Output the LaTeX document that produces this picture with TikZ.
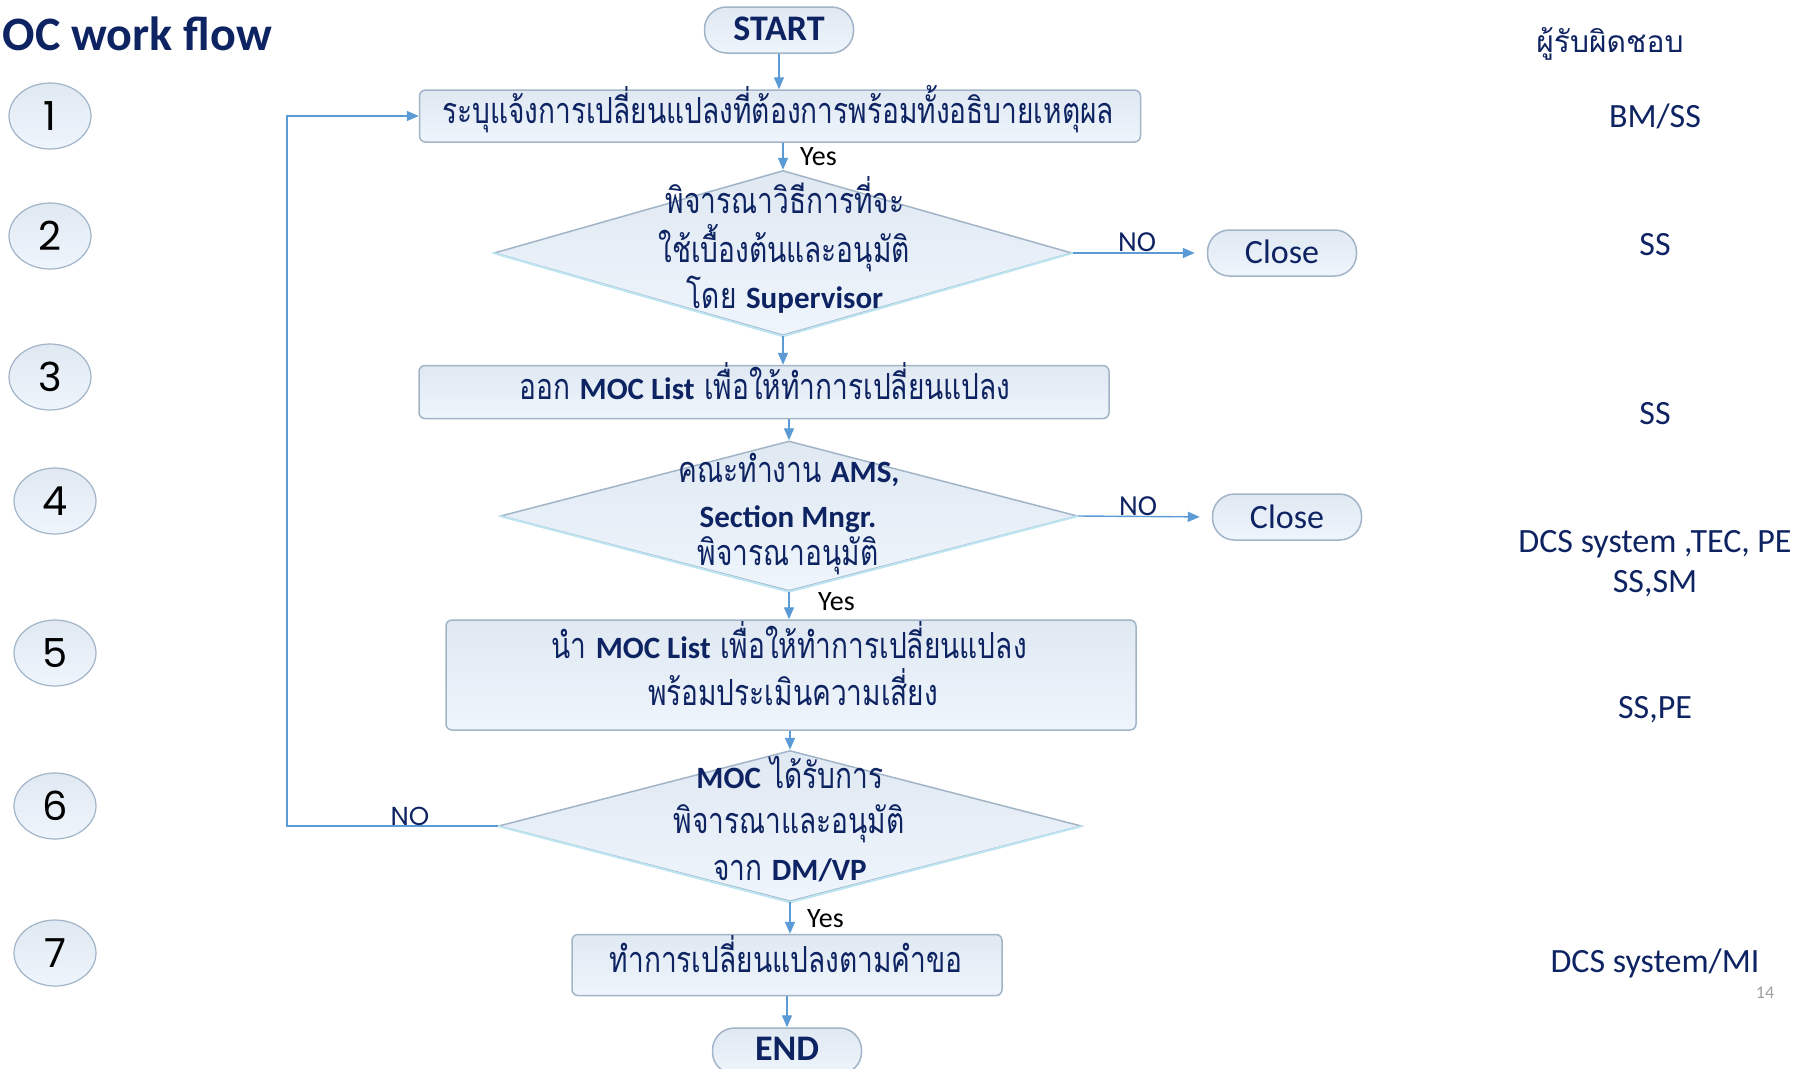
\documentclass[tikz,border=0pt]{standalone}
\usepackage{fontspec}
\setmainfont{Carlito}
\newfontfamily\thaif[Script=Thai,FakeStretch=0.78]{Loma}
\newfontfamily\thaih[Script=Thai]{Loma}
\newfontfamily\numf{Poppins}
\usetikzlibrary{shapes.geometric,arrows.meta,calc}
\definecolor{navy}{HTML}{0E2362}
\definecolor{conncol}{HTML}{5B9BD5}
\definecolor{filltop}{HTML}{E0E8F2}
\definecolor{fillbot}{HTML}{EEF5FC}
\definecolor{edgecol}{HTML}{A2B4C7}
\definecolor{lowcol}{HTML}{BDE4F1}
\definecolor{pagegray}{HTML}{A0A0A0}
\newcommand{\thaitext}{\thaif\fontsize{36}{40}\selectfont}
\newcommand{\latb}{\rmfamily\bfseries\fontsize{31}{36}\selectfont}
\tikzset{
  x=1pt, y=-1pt,
  txt/.style={text=navy, inner sep=0pt, anchor=base},
  shapebase/.style={draw=edgecol, line width=1.5pt, top color=filltop, bottom color=fillbot, inner sep=0pt},
  boxshape/.style={shapebase, rectangle, rounded corners=6pt},
  pillshape/.style={shapebase, rectangle, rounded corners=22pt, minimum width=149pt, minimum height=46pt},
  diashape/.style={shapebase, diamond, aspect=3.5},
  numball/.style={draw=edgecol, line width=1.2pt, top color=filltop, bottom color=fillbot, ellipse, minimum width=82pt, minimum height=66pt, inner sep=0pt, text=black, font=\numf\fontsize{40}{44}\selectfont},
  lowedge/.style={draw=lowcol, line width=2pt},
  conn/.style={draw=conncol, line width=1.4pt, -{Triangle[length=12pt,width=10pt]}},
  yeslbl/.style={inner sep=0pt, anchor=base west, text=black, font=\rmfamily\fontsize{28}{32}\selectfont},
  nolbl/.style={inner sep=0pt, anchor=base, text=navy, font=\rmfamily\fontsize{29}{32}\selectfont},
  rightlbl/.style={inner sep=0pt, anchor=base, text=navy, font=\rmfamily\fontsize{34}{38}\selectfont},
}
\begin{document}
\begin{tikzpicture}
\useasboundingbox (0,0) rectangle (1817,1068);
\fill[white] (0,0) rectangle (1817,1068);

% title
\node[txt, anchor=base east, font=\rmfamily\bfseries\fontsize{48}{52}\selectfont] (title) at (272,50) {MOC work flow};

% numbered balls
\node[numball] (n1) at (50,116) {1};
\node[numball] (n2) at (50,236) {2};
\node[numball] (n3) at (50,377) {3};
\node[numball] (n4) at (55,501) {4};
\node[numball] (n5) at (55,653) {5};
\node[numball] (n6) at (55,806) {6};
\node[numball] (n7) at (55,953) {7};

% shapes
\node[pillshape] (start) at (779,30) {};
\node[txt, font=\rmfamily\bfseries\fontsize{36}{40}\selectfont] (starttxt) at (779,40) {START};

\node[boxshape, minimum width=721pt, minimum height=52pt] (b1) at (780,116) {};
\node[txt] (b1t) at (778,123) {\thaitext ระบุแจ้งการเปลี่ยนแปลงที่ต้องการพร้อมทั้งอธิบายเหตุผล};

\node[diashape, minimum width=578pt, minimum height=165pt] (d2) at (783,253) {};
\draw[lowedge] (d2.west) -- (d2.south) -- (d2.east);
\node[txt] (d2a) at (785,213) {\thaitext พิจารณาวิธีการที่จะ};
\node[txt] (d2b) at (784,262) {\thaitext ใช้เบื้องต้นและอนุมัติ};
\node[txt] (d2c) at (785,308) {\thaitext โดย {\latb Supervisor}};

\node[pillshape] (close1) at (1282,253) {};
\node[txt, font=\rmfamily\fontsize{34}{38}\selectfont] (close1t) at (1282,263) {Close};

\node[boxshape, minimum width=690pt, minimum height=53pt] (b3) at (764,392) {};
\node[txt] (b3t) at (765,399) {\thaitext ออก {\latb MOC List} เพื่อให้ทำการเปลี่ยนแปลง};

\node[diashape, minimum width=577pt, minimum height=150pt] (d4) at (789,516) {};
\draw[lowedge] (d4.west) -- (d4.south) -- (d4.east);
\node[txt] (d4a) at (789,482) {\thaitext คณะทำงาน {\latb AMS,}};
\node[txt] (d4b) at (788,527) {\latb Section Mngr.};
\node[txt] (d4c) at (788,565) {\thaitext พิจารณาอนุมัติ};

\node[pillshape] (close2) at (1287,517) {};
\node[txt, font=\rmfamily\fontsize{34}{38}\selectfont] (close2t) at (1287,528) {Close};

\node[boxshape, minimum width=690pt, minimum height=110pt] (b5) at (791,675) {};
\node[txt] (b5a) at (789,658) {\thaitext นำ {\latb MOC List} เพื่อให้ทำการเปลี่ยนแปลง};
\node[txt] (b5b) at (793,705) {\thaitext พร้อมประเมินความเสี่ยง};

\node[diashape, minimum width=583pt, minimum height=151pt] (d6) at (790,826) {};
\draw[lowedge] (d6.west) -- (d6.south) -- (d6.east);
\node[txt] (d6a) at (790,788) {\thaitext {\latb MOC} ได้รับการ};
\node[txt] (d6b) at (789,833) {\thaitext พิจารณาและอนุมัติ};
\node[txt] (d6c) at (790,880) {\thaitext จาก {\latb DM/VP}};

\node[boxshape, minimum width=430pt, minimum height=61pt] (b7) at (787,965) {};
\node[txt] (b7t) at (786,972) {\thaitext ทำการเปลี่ยนแปลงตามคำขอ};

\node[pillshape] (end) at (787,1051) {};
\node[txt, font=\rmfamily\bfseries\fontsize{36}{40}\selectfont] (endtxt) at (787,1060) {END};

% connectors
\draw[conn] (start.south) -- (start.south |- b1.north);
\draw[conn] (b1.south -| d2.north) -- (d2.north);
\draw[conn] (d2.south) -- (d2.south |- b3.north);
\draw[conn] (b3.south -| d4.north) -- (d4.north);
\draw[conn] (d4.south) -- (d4.south |- b5.north);
\draw[conn] (b5.south -| d6.north) -- (d6.north);
\draw[conn] (d6.south) -- (d6.south |- b7.north);
\draw[conn] (b7.south -| end.north) -- (end.north);
\draw[conn, shorten >=12pt] (d2.east) -- (close1.west);
\draw[conn, shorten >=12pt] (d4.east) -- (close2.west);
\coordinate (loopx) at (287,0);
\draw[conn] (d6.west) -- (d6.west -| loopx) -- (loopx |- b1.west) -- (b1.west);

% branch labels
\node[yeslbl] (y1) at (800,165) {Yes};
\node[yeslbl] (y2) at (818,610) {Yes};
\node[yeslbl] (y3) at (807,927) {Yes};
\node[nolbl] (no1) at (1137,251) {NO};
\node[nolbl] (no2) at (1138,515) {NO};
\node[nolbl, font=\numf\fontsize{26}{30}\selectfont] (no3) at (410,825) {NO};

% responsibility column
\node[txt] (resp) at (1610,52) {\thaih\fontsize{30}{36}\selectfont ผู้รับผิดชอบ};
\node[rightlbl] (r1) at (1655,127) {BM/SS};
\node[rightlbl] (r2) at (1655,255) {SS};
\node[rightlbl] (r3) at (1655,424) {SS};
\node[rightlbl] (r4a) at (1655,552) {DCS system ,TEC, PE};
\node[rightlbl] (r4b) at (1655,592) {SS,SM};
\node[rightlbl] (r5) at (1655,718) {SS,PE};
\node[rightlbl] (r7) at (1655,972) {DCS system/MI};
\node[inner sep=0pt, anchor=base, text=pagegray, font=\rmfamily\fontsize{18}{20}\selectfont] (pg) at (1765,998) {14};
\end{tikzpicture}
\end{document}
